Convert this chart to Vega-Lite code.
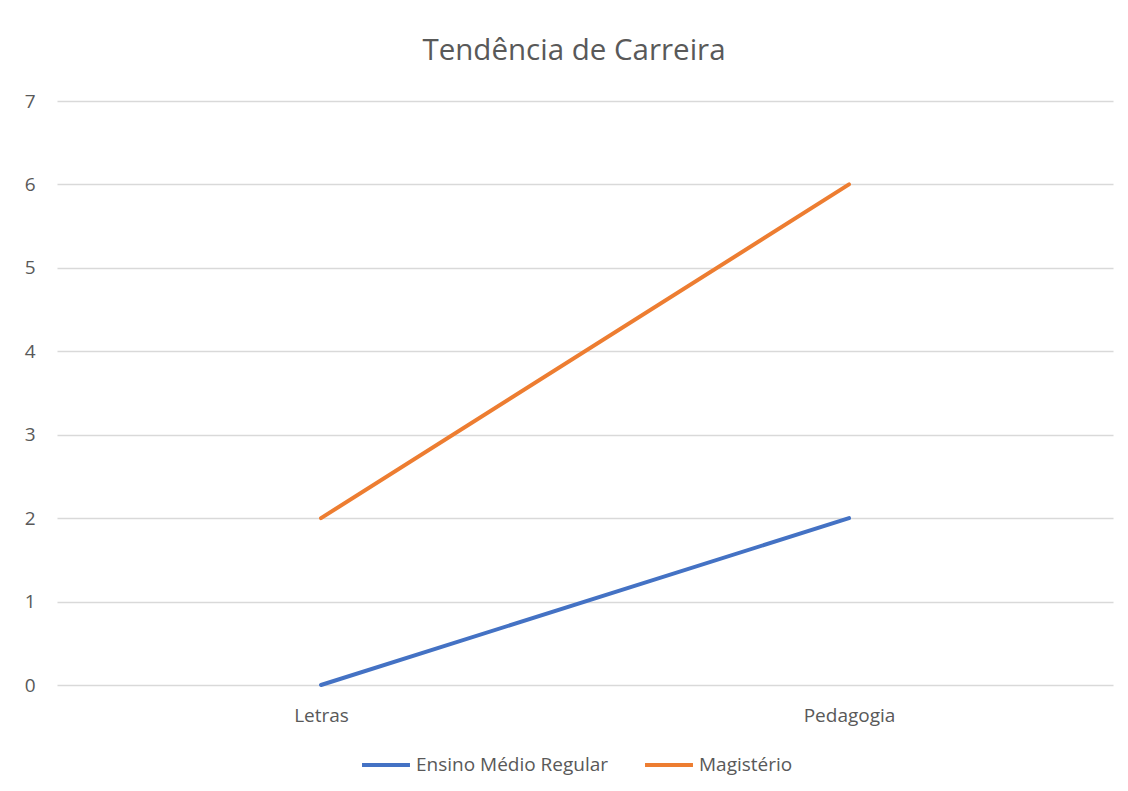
{
  "$schema": "https://vega.github.io/schema/vega-lite/v6.json",
  "width": 1056,
  "height": 584,
  "autosize": {"type": "none"},
  "padding": {"left": 57, "top": 101, "right": 15, "bottom": 106},
  "background": "white",
  "title": {
    "text": "Tendência de Carreira",
    "font": "Open Sans",
    "fontSize": 29.5,
    "fontWeight": "normal",
    "color": "#595959",
    "anchor": "middle",
    "offset": 26,
    "dx": -11
  },
  "data": {
    "values": [
      {"curso": "Letras", "serie": "Ensino Médio Regular", "valor": 0},
      {"curso": "Pedagogia", "serie": "Ensino Médio Regular", "valor": 2},
      {"curso": "Letras", "serie": "Magistério", "valor": 2},
      {"curso": "Pedagogia", "serie": "Magistério", "valor": 6}
    ]
  },
  "mark": {"type": "line", "strokeWidth": 4, "strokeCap": "round"},
  "encoding": {
    "x": {
      "field": "curso",
      "type": "nominal",
      "scale": {"type": "point", "padding": 0.5},
      "axis": {
        "title": null,
        "labelAngle": 0,
        "domain": false,
        "ticks": false,
        "grid": false,
        "labelFont": "Open Sans",
        "labelFontSize": 19,
        "labelColor": "#595959",
        "labelPadding": 21
      }
    },
    "y": {
      "field": "valor",
      "type": "quantitative",
      "scale": {"domain": [0, 7], "nice": false},
      "axis": {
        "title": null,
        "values": [0, 1, 2, 3, 4, 5, 6, 7],
        "domain": false,
        "ticks": false,
        "grid": true,
        "gridColor": "#d9d9d9",
        "gridWidth": 1.5,
        "labelFont": "Open Sans",
        "labelFontSize": 19,
        "labelColor": "#595959",
        "labelPadding": 22
      }
    },
    "color": {
      "field": "serie",
      "type": "nominal",
      "scale": {"domain": ["Ensino Médio Regular", "Magistério"], "range": ["#4472C4", "#ED7D31"]},
      "legend": {
        "title": null,
        "orient": "none",
        "direction": "horizontal",
        "legendX": 303,
        "legendY": 638,
        "symbolType": "stroke",
        "symbolSize": 2300,
        "symbolStrokeWidth": 4,
        "symbolOffset": 0,
        "labelFont": "Open Sans",
        "labelFontSize": 19,
        "labelLimit": 0,
        "labelColor": "#595959",
        "labelOffset": 4,
        "columnPadding": 28
      }
    }
  },
  "config": {"view": {"stroke": null}}
}
